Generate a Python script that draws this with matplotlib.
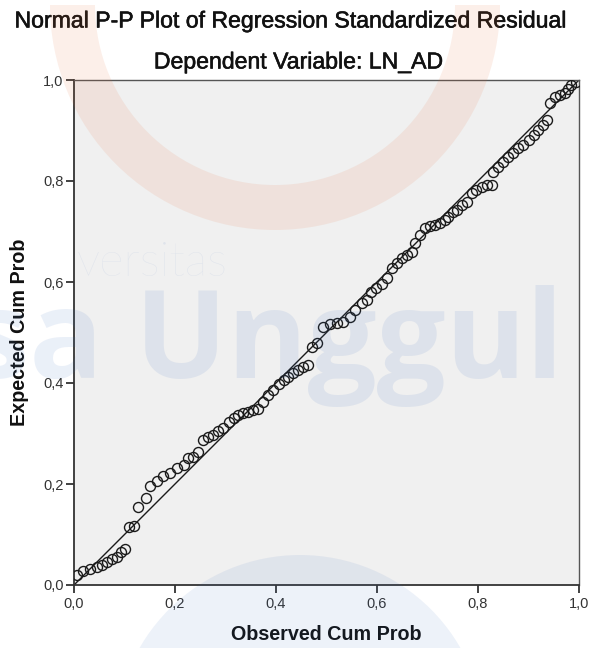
import matplotlib
matplotlib.use("Agg")
import matplotlib.pyplot as plt
from matplotlib.patches import Wedge, Circle
import matplotlib.patheffects as pe

# ---- data ----
observed = [0.005, 0.018, 0.032, 0.045, 0.055, 0.065, 0.075, 0.085, 0.094, 0.101,
            0.108, 0.118, 0.127, 0.143, 0.150, 0.164, 0.177, 0.190, 0.203, 0.217,
            0.226, 0.236, 0.246, 0.256, 0.266, 0.276, 0.286, 0.296, 0.306, 0.316,
            0.325, 0.335, 0.345, 0.355, 0.365, 0.375, 0.385, 0.395, 0.405, 0.415,
            0.424, 0.434, 0.444, 0.454, 0.464, 0.471, 0.481,
            0.494, 0.507, 0.520, 0.533, 0.547, 0.556, 0.570, 0.580, 0.589, 0.599,
            0.609, 0.619, 0.629, 0.639, 0.649, 0.659, 0.669, 0.675, 0.685, 0.695,
            0.705, 0.715, 0.725, 0.735, 0.741, 0.751, 0.758, 0.768, 0.778, 0.788,
            0.797, 0.807, 0.817, 0.827, 0.830, 0.840, 0.850, 0.860, 0.870, 0.880,
            0.890, 0.900, 0.910, 0.919, 0.929, 0.936, 0.943, 0.952, 0.962, 0.972,
            0.979, 0.985, 0.995]
expected = [0.020, 0.028, 0.032, 0.035, 0.040, 0.046, 0.051, 0.056, 0.066, 0.071,
            0.115, 0.117, 0.155, 0.172, 0.196, 0.205, 0.215, 0.221, 0.231, 0.238,
            0.251, 0.254, 0.264, 0.288, 0.294, 0.297, 0.304, 0.310, 0.323, 0.330,
            0.337, 0.341, 0.343, 0.347, 0.348, 0.363, 0.376, 0.386, 0.399, 0.406,
            0.412, 0.419, 0.426, 0.431, 0.436, 0.472, 0.479,
            0.511, 0.517, 0.518, 0.521, 0.531, 0.545, 0.558, 0.564, 0.581, 0.588,
            0.597, 0.607, 0.627, 0.637, 0.647, 0.653, 0.660, 0.677, 0.693, 0.706,
            0.710, 0.713, 0.716, 0.723, 0.729, 0.739, 0.743, 0.752, 0.759, 0.776,
            0.782, 0.789, 0.792, 0.792, 0.818, 0.828, 0.838, 0.847, 0.855, 0.865,
            0.871, 0.881, 0.891, 0.901, 0.911, 0.921, 0.954, 0.967, 0.970, 0.974,
            0.983, 0.990, 0.997]
ticks = [0.0, 0.2, 0.4, 0.6, 0.8, 1.0]
tick_labels = ["0,0", "0,2", "0,4", "0,6", "0,8", "1,0"]

title = "Normal P-P Plot of Regression Standardized Residual"
subtitle = "Dependent Variable: LN_AD"
xlabel = "Observed Cum Prob"
ylabel = "Expected Cum Prob"

plt.rcParams['font.family'] = ['Liberation Sans', 'DejaVu Sans']

W, H = 589, 648
fig = plt.figure(figsize=(W / 100, H / 100), dpi=100)
fig.patch.set_facecolor("white")

ax = fig.add_axes([74 / W, 1 - 585 / H, 505 / W, 505 / H])
ax.set_facecolor("#f0f0f0")
ax.plot([0, 1], [0, 1], color="#1a1a1a", lw=1.0, zorder=2)
ax.plot(observed, expected, linestyle="none", marker="o", markersize=7.2,
        markerfacecolor="none", markeredgecolor="#1a1a1a", markeredgewidth=1.0,
        zorder=3)
ax.set_xlim(0, 1)
ax.set_ylim(0, 1)
ax.set_xticks(ticks)
ax.set_xticklabels(tick_labels)
ax.set_yticks(ticks)
ax.set_yticklabels(tick_labels)
ax.tick_params(direction="out", length=6, width=1.3, color="#333333",
               labelsize=10.5, labelcolor="#333333", pad=1.5)
ax.tick_params(axis="x", pad=3)
for s in ["left", "bottom"]:
    ax.spines[s].set_color("#333333")
    ax.spines[s].set_linewidth(1.3)
for s in ["top", "right"]:
    ax.spines[s].set_color("#555555")
    ax.spines[s].set_linewidth(1.0)

ax.set_xlabel(xlabel, fontsize=14.2, fontweight="bold", color="#111111")
ax.xaxis.set_label_coords(0.5, -(634 - 585) / 505, transform=ax.transAxes)
ax.set_ylabel(ylabel, fontsize=14.2, fontweight="bold", color="#111111")
ax.yaxis.set_label_coords(-(74 - 20) / 505, 0.5, transform=ax.transAxes)
ax.xaxis.label.set_va("center")
ax.yaxis.label.set_va("center")

heavy = [pe.withStroke(linewidth=0.4, foreground="#111111")]
fig.text(0.5 * (12 + 567) / W, 1 - 21 / H, title, fontsize=16.6,
         ha="center", va="center", color="#111111", path_effects=heavy)
fig.text(298 / W, 1 - 62 / H, subtitle, fontsize=16.6,
         ha="center", va="center", color="#111111", path_effects=heavy)

# ---- faint watermark overlay ----
tr = fig.dpi_scale_trans
ring = Wedge((2.75, (H - 5) / 100), 2.25, 180, 360, width=0.45,
             facecolor="#e8703a", edgecolor="none", alpha=0.11,
             transform=tr, zorder=10)
fig.add_artist(ring)
disk = Circle((3.0, (H - 740) / 100), 1.85, facecolor="#3a6fc0",
              edgecolor="none", alpha=0.09, transform=tr, zorder=10)
fig.add_artist(disk)
fig.text(-100 / W, 1 - 378 / H, "Esa Unggul", fontsize=88, fontweight="bold",
         family=["Open Sans", "DejaVu Sans"], color="#3a6fc0", alpha=0.10,
         ha="left", va="baseline", zorder=10)
fig.text(77 / W, 1 - 276 / H, "versitas", fontsize=34, fontweight="light",
         family=["Lato", "DejaVu Sans"], color="#3a6fc0", alpha=0.09,
         ha="left", va="baseline", zorder=10)

fig.savefig("out.png", dpi=100, facecolor="white")
